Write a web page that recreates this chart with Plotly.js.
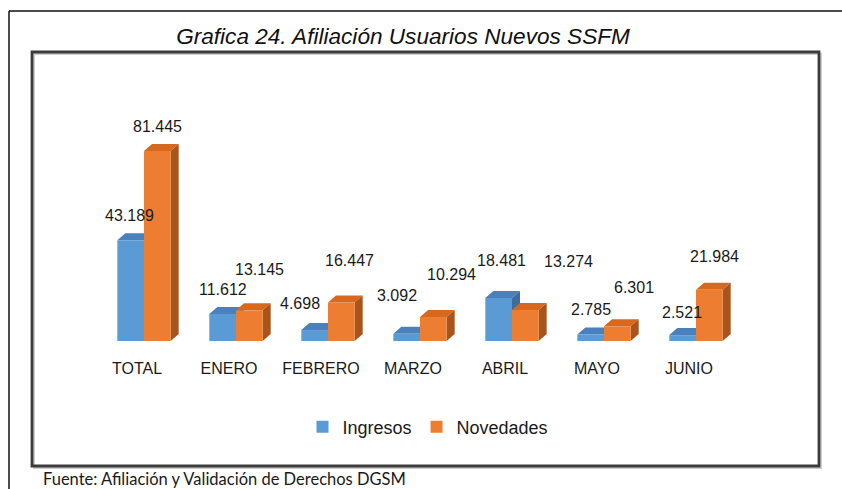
<!DOCTYPE html>
<html>
<head>
<meta charset="utf-8">
<script src="https://cdn.plot.ly/plotly-3.0.1.min.js"></script>
<style>
html,body{margin:0;padding:0;background:#fff;}
#chart{width:842px;height:489px;}
</style>
</head>
<body>
<div id="chart"></div>
<script>
// ---- data ----
const categories = ['TOTAL', 'ENERO', 'FEBRERO', 'MARZO', 'ABRIL', 'MAYO', 'JUNIO'];
const ingresos   = [43189, 11612, 4698, 3092, 18481, 2785, 2521];
const novedades  = [81445, 13145, 16447, 10294, 13274, 6301, 21984];
const seriesNames = ['Ingresos', 'Novedades'];

// ---- styling / layout helpers (not data) ----
const W = 842, H = 489;
const M = {l: 52, r: 54, t: 61, b: 148};
const plotW = W - M.l - M.r, plotH = H - M.t - M.b;
const XR = [-1, 7], YR = [0, 120000];
const px = x => (x - M.l) / plotW;          // pixel -> paper x
const py = y => (H - M.b - y) / plotH;      // pixel -> paper y
const DX = 8 * (XR[1] - XR[0]) / plotW;     // 3D depth in x units
const DY = 7 * (YR[1] - YR[0]) / plotH;     // 3D depth in y units
const BW = 0.29;

const styles = [
  {front: '#5b9bd5', top: '#4a80bd', side: '#3e6c9f', offset: -BW,
   shift: [[-1,25],[0,24],[-15,27],[-10,38],[3,37],[0,25],[-1,23]]},
  {front: '#ed7d31', top: '#d7691f', side: '#a9541a', offset: 0,
   shift: [[0,24],[10,41],[8,42],[18,42],[43,49],[17,39],[5,33]]}
];
const values = [ingresos, novedades];
const xs = categories.map((c, i) => i);

function fmt(v) {
  return String(v).replace(/\B(?=(\d{3})+(?!\d))/g, '.');
}

const traces = values.map((vals, s) => ({
  type: 'bar',
  name: seriesNames[s],
  x: xs,
  y: vals,
  width: BW,
  offset: styles[s].offset,
  marker: {color: styles[s].front, line: {width: 0}},
  hoverinfo: 'skip'
}));

const shapes = [];
const annotations = [];
values.forEach((vals, s) => {
  const st = styles[s];
  vals.forEach((v, i) => {
    const x0 = i + st.offset, x1 = x0 + BW;
    shapes.push({type: 'path', xref: 'x', yref: 'y', layer: 'below',
      path: `M${x0},${v}L${x1},${v}L${x1 + DX},${v + DY}L${x0 + DX},${v + DY}Z`,
      fillcolor: st.top, line: {width: 0}});
    shapes.push({type: 'path', xref: 'x', yref: 'y', layer: 'below',
      path: `M${x1},0L${x1},${v}L${x1 + DX},${v + DY}L${x1 + DX},${DY}Z`,
      fillcolor: st.side, line: {width: 0}});
    annotations.push({xref: 'x', yref: 'y', x: x0 + BW / 2, y: v,
      text: fmt(v), showarrow: false, xanchor: 'center', yanchor: 'middle',
      xshift: st.shift[i][0], yshift: st.shift[i][1],
      font: {family: 'Liberation Sans, Arial, sans-serif', size: 16, color: '#1a1a1a'}});
  });
});

// frames
shapes.push({type: 'rect', xref: 'paper', yref: 'paper', layer: 'above',
  x0: px(34), x1: px(821), y0: py(468), y1: py(54),
  line: {color: '#cfcfcf', width: 2}, fillcolor: 'rgba(0,0,0,0)'});
shapes.push({type: 'rect', xref: 'paper', yref: 'paper', layer: 'above',
  x0: px(32), x1: px(819), y0: py(466), y1: py(52),
  line: {color: '#3c3c3c', width: 2.8}, fillcolor: 'rgba(0,0,0,0)'});
shapes.push({type: 'line', xref: 'paper', yref: 'paper', layer: 'above',
  x0: px(9), x1: px(9), y0: py(11), y1: py(500), line: {color: '#111', width: 1.5}});
shapes.push({type: 'line', xref: 'paper', yref: 'paper', layer: 'above',
  x0: px(9), x1: px(850), y0: py(11), y1: py(11), line: {color: '#111', width: 1.5}});

annotations.push({xref: 'paper', yref: 'paper', x: px(41), y: py(479),
  xanchor: 'left', yanchor: 'middle', showarrow: false,
  text: 'Fuente: Afiliación y Validación de Derechos DGSM',
  font: {family: 'Lato, Open Sans, sans-serif', size: 16.5, color: '#1a1a1a'}});

const layout = {
  width: W, height: H,
  margin: M,
  paper_bgcolor: '#fff', plot_bgcolor: 'rgba(0,0,0,0)',
  barmode: 'overlay',
  showlegend: true,
  title: {
    text: 'Grafica 24. Afiliación Usuarios Nuevos SSFM',
    font: {family: 'Liberation Sans Narrow, Arial Narrow, Liberation Sans, sans-serif', size: 22.6, style: 'italic', color: '#111'},
    x: 403 / W, xanchor: 'center', y: 1 - 36 / H, yanchor: 'middle'
  },
  xaxis: {
    range: XR, tickvals: xs, ticktext: categories,
    showgrid: false, zeroline: false, showline: false, ticks: '',
    ticklabelshift: -7, ticklabelstandoff: 16,
    tickfont: {family: 'Liberation Sans, Arial, sans-serif', size: 16, color: '#1a1a1a'}
  },
  yaxis: {range: YR, visible: false, showgrid: false, zeroline: false},
  legend: {
    orientation: 'h', x: px(428), xanchor: 'center', y: py(427), yanchor: 'middle',
    font: {family: 'Liberation Sans, Arial, sans-serif', size: 18, color: '#1a1a1a'},
    bgcolor: 'rgba(0,0,0,0)'
  },
  shapes: shapes,
  annotations: annotations
};

Plotly.newPlot('chart', traces, layout, {staticPlot: true, displayModeBar: false});
</script>
</body>
</html>
